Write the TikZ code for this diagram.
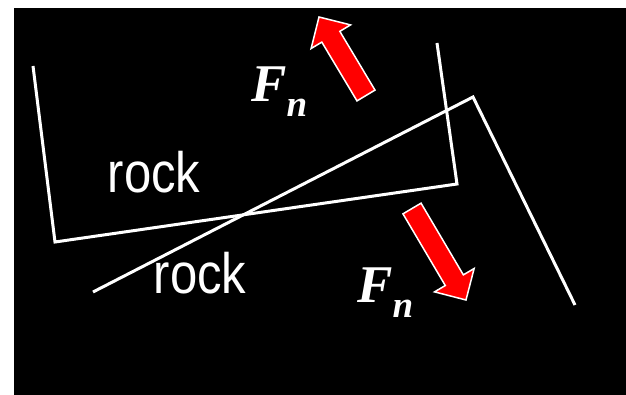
\documentclass[tikz,border=0pt]{standalone}
\usepackage{fontspec}
\setmainfont{Liberation Sans}
\newfontfamily\forcefont{Liberation Serif}
\usetikzlibrary{calc}

\tikzset{
  rockline/.style={white, line width=3pt, line join=miter},
  rocklabel/.style={white, inner sep=0pt, anchor=base, font=\fontsize{57}{57}\selectfont},
  forcelabel/.style={white, inner sep=0pt, anchor=base west, font=\forcefont\bfseries\itshape\fontsize{53}{53}\selectfont},
  forcearrow/.style={fill=red, draw=white, line width=1.5pt, line join=miter}
}
% fat arrow from tail #1 to tip #2
\newcommand{\fatarrow}[2]{%
  \coordinate (h) at ($(#2)!23pt!(#1)$);
  \draw[forcearrow] ($(#1)!10.5pt!90:(#2)$) -- ($(h)!10.5pt!-90:(#1)$)
    -- ($(h)!23pt!-90:(#1)$) -- (#2) -- ($(h)!23pt!90:(#1)$)
    -- ($(h)!10.5pt!90:(#1)$) -- ($(#1)!10.5pt!-90:(#2)$) -- cycle;
}
\newcommand{\narrow}[1]{\scalebox{0.86}[1]{#1}}

\begin{document}
\begin{tikzpicture}[x=1pt, y=-1pt]
\useasboundingbox (0,0) rectangle (626,395);
%% background
\fill[black] (14,8) rectangle (626,395);
%% upper rock and lower rock
\draw[rockline] (33,66) -- (55,242) -- (457,184) -- (437,43);
\draw[rockline] (93,292) -- (473,97) -- (575,305);
%% labels
\node[rocklabel] (rockup) at (154,193) {\narrow{rock}};
\node[rocklabel] (rockdown) at (200,293) {\narrow{rock}};
%% normal forces
\coordinate (tailup) at (366,95.5);
\coordinate (tipup) at (319,17);
\fatarrow{tailup}{tipup}
\coordinate (taildown) at (412,208.5);
\coordinate (tipdown) at (466,300);
\fatarrow{taildown}{tipdown}
\node[forcelabel] (fnup) at (251,102) {F\raisebox{-15pt}{\fontsize{37}{37}\selectfont n}};
\node[forcelabel] (fndown) at (357,302) {F\raisebox{-15pt}{\fontsize{37}{37}\selectfont n}};
\end{tikzpicture}
\end{document}
